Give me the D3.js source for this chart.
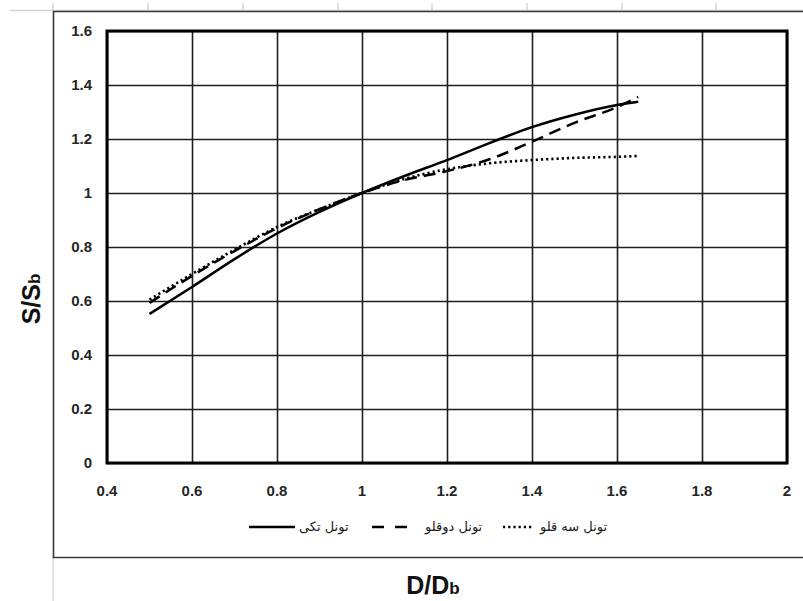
<!DOCTYPE html>
<html>
<head>
<meta charset="utf-8">
<script src="https://cdn.jsdelivr.net/npm/d3@7"></script>
<style>
  body { margin: 0; background: #fff; }
  svg { display: block; }
</style>
</head>
<body>
<div class="chart"></div>
<script>
const w = 803;
const h = 601;

// data
const xValues = [0.5, 0.6, 0.7, 0.8, 0.9, 1.0, 1.1, 1.2, 1.3, 1.4, 1.5, 1.6, 1.65];
const singleTunnel = [0.552, 0.652, 0.755, 0.85, 0.93, 1.0, 1.063, 1.122, 1.185, 1.244, 1.29, 1.326, 1.338];
const twinTunnel = [0.593, 0.693, 0.785, 0.87, 0.94, 1.0, 1.048, 1.081, 1.125, 1.19, 1.26, 1.318, 1.356];
const tripleTunnel = [0.605, 0.7, 0.79, 0.874, 0.94, 1.0, 1.052, 1.088, 1.11, 1.122, 1.13, 1.134, 1.137];
const seriesNames = ['تونل تکی', 'تونل دوقلو', 'تونل سه قلو'];
const xTicks = [0.4, 0.6, 0.8, 1, 1.2, 1.4, 1.6, 1.8, 2];
const xTickLabels = ['0.4', '0.6', '0.8', '1', '1.2', '1.4', '1.6', '1.8', '2'];
const yTicks = [0, 0.2, 0.4, 0.6, 0.8, 1, 1.2, 1.4, 1.6];
const yTickLabels = ['0', '0.2', '0.4', '0.6', '0.8', '1', '1.2', '1.4', '1.6'];

const series = [singleTunnel, twinTunnel, tripleTunnel];
const dashes = ['none', '12,7', '2.2,3'];

const svg = d3.select('.chart').append('svg').attr('width', w).attr('height', h);

// spreadsheet frame around the chart
const sheetCols = [53, 148, 243, 338, 432, 527, 622, 716];
svg.append('line').attr('x1', 10).attr('x2', w).attr('y1', 10.5).attr('y2', 10.5)
  .attr('stroke', '#d4d4d4').attr('stroke-width', 1.5);
svg.selectAll('.col').data(sheetCols).enter().append('line')
  .attr('x1', (d) => d).attr('x2', (d) => d).attr('y1', 3).attr('y2', 10)
  .attr('stroke', '#d4d4d4').attr('stroke-width', 1.5);
svg.append('line').attr('x1', 53).attr('x2', 53).attr('y1', 557).attr('y2', h)
  .attr('stroke', '#d9d9d9').attr('stroke-width', 1.5);
svg.append('path').attr('d', `M${w},11.5H53.5V557.5H${w}`)
  .attr('fill', 'none').attr('stroke', '#3a3a3a').attr('stroke-width', 1.6);

const plotLeft = 107, plotRight = 787, plotTop = 31, plotBottom = 463;

const xScale = d3.scaleLinear().domain([0.4, 2]).range([plotLeft, plotRight]);
const yScale = d3.scaleLinear().domain([0, 1.6]).range([plotBottom, plotTop]);

// grid
const xGrid = d3.axisBottom(xScale).tickValues(xTicks).tickSize(-(plotBottom - plotTop)).tickFormat('');
const yGrid = d3.axisLeft(yScale).tickValues(yTicks).tickSize(-(plotRight - plotLeft)).tickFormat('');
const gx = svg.append('g').attr('transform', `translate(0,${plotBottom})`).call(xGrid);
const gy = svg.append('g').attr('transform', `translate(${plotLeft},0)`).call(yGrid);
[gx, gy].forEach((g) => {
  g.select('.domain').remove();
  g.selectAll('line').attr('stroke', '#1e1e1e').attr('stroke-width', 1.6);
});

svg.append('rect').attr('x', plotLeft).attr('y', plotTop)
  .attr('width', plotRight - plotLeft).attr('height', plotBottom - plotTop)
  .attr('fill', 'none').attr('stroke', '#000').attr('stroke-width', 3);

// tick labels
const labelFont = '"Liberation Sans", Arial, sans-serif';
svg.append('g').selectAll('text').data(xTicks).enter().append('text')
  .attr('x', (d) => xScale(d)).attr('y', plotBottom + 33)
  .attr('text-anchor', 'middle')
  .attr('font-family', labelFont).attr('font-weight', 'bold').attr('font-size', 15)
  .attr('fill', '#262626')
  .text((d, i) => xTickLabels[i]);
svg.append('g').selectAll('text').data(yTicks).enter().append('text')
  .attr('x', plotLeft - 15).attr('y', (d) => yScale(d) + 5)
  .attr('text-anchor', 'end')
  .attr('font-family', labelFont).attr('font-weight', 'bold').attr('font-size', 15)
  .attr('fill', '#262626')
  .text((d, i) => yTickLabels[i]);

// curves
const line = d3.line()
  .x((d) => xScale(d[0]))
  .y((d) => yScale(d[1]))
  .curve(d3.curveMonotoneX);

series.forEach((vals, k) => {
  svg.append('path')
    .datum(xValues.map((x, i) => [x, vals[i]]))
    .attr('fill', 'none')
    .attr('stroke', '#000')
    .attr('stroke-width', k === 2 ? 2.6 : 2.5)
    .attr('stroke-dasharray', dashes[k])
    .attr('d', line);
});

// legend
const legendY = 527;
const legendItems = [
  { x1: 249, x2: 295, tx: 299 },
  { x1: 372, x2: 407, tx: 425 },
  { x1: 503, x2: 533, tx: 540 }
];
legendItems.forEach((it, k) => {
  svg.append('line')
    .attr('x1', it.x1).attr('x2', it.x2).attr('y1', legendY).attr('y2', legendY)
    .attr('stroke', '#000').attr('stroke-width', 2.6)
    .attr('stroke-dasharray', k === 1 ? '12,11' : dashes[k]);
  svg.append('text')
    .attr('x', it.tx).attr('y', legendY + 4)
    .attr('font-family', '"DejaVu Sans", sans-serif').attr('font-size', 13)
    .attr('fill', '#1a1a1a')
    .text(seriesNames[k]);
});

// axis titles
const titleFont = '"Liberation Sans", Arial, sans-serif';
const xTitle = svg.append('text')
  .attr('x', 433).attr('y', 594)
  .attr('text-anchor', 'middle')
  .attr('font-family', titleFont).attr('font-weight', 'bold').attr('font-size', 25)
  .attr('fill', '#111');
xTitle.append('tspan').text('D/D');
xTitle.append('tspan').attr('font-size', 17).text('b');

const yTitle = svg.append('text')
  .attr('transform', 'translate(40,299) rotate(-90)')
  .attr('text-anchor', 'middle')
  .attr('font-family', titleFont).attr('font-weight', 'bold').attr('font-size', 25)
  .attr('fill', '#111');
yTitle.append('tspan').text('S/S');
yTitle.append('tspan').attr('font-size', 17).text('b');
</script>
</body>
</html>
